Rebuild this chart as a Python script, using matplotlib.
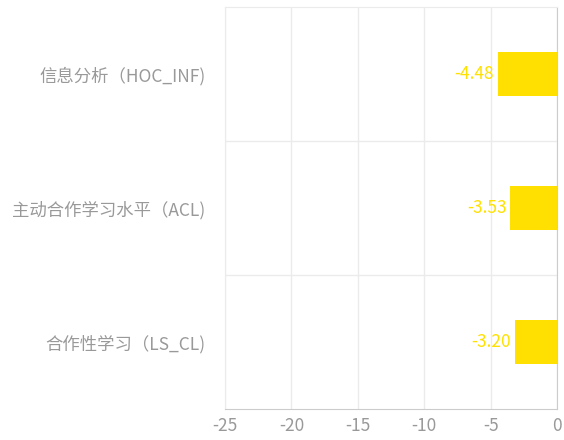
import matplotlib.pyplot as plt
from matplotlib.ticker import FixedLocator

plt.rcParams['font.family'] = ['Noto Sans CJK SC', 'DejaVu Sans']

# 數據
categories = ['信息分析（HOC_INF)', '主动合作学习水平（ACL)', '合作性学习（LS_CL)']
values = [-4.48, -3.53, -3.20]
x_ticks = [-25, -20, -15, -10, -5, 0]

bar_color = '#FFE000'
grid_color = '#EBEBEB'
text_color = '#999999'

fig = plt.figure(figsize=(5.64, 4.40), dpi=100)
ax = fig.add_axes([0.399, 0.0705, 0.5886, 0.9135])

y_pos = list(range(len(categories)))
bars = ax.barh(y_pos, values, height=0.33, color=bar_color, zorder=3)

# 數值標籤
for y, v in zip(y_pos, values):
    ax.text(v - 0.25, y, f'{v:.2f}', ha='right', va='center',
            color=bar_color, fontsize=12.5, zorder=4)

ax.set_xlim(-25, 0)
ax.set_ylim(len(categories) - 0.5, -0.5)
ax.set_xticks(x_ticks)
ax.set_xticklabels([str(t) for t in x_ticks])
ax.set_yticks(y_pos)
ax.set_yticklabels(categories)

# 類別分隔線
ax.yaxis.set_minor_locator(FixedLocator([0.5, 1.5]))
ax.grid(axis='x', which='major', color=grid_color, linewidth=1, zorder=0)
ax.grid(axis='y', which='minor', color=grid_color, linewidth=1, zorder=0)

for side in ['top', 'left']:
    ax.spines[side].set_color(grid_color)
ax.spines['right'].set_color('#CCCCCC')
ax.spines['bottom'].set_color('#CCCCCC')

ax.tick_params(axis='x', which='both', length=0, colors=text_color, labelsize=12.5, pad=6)
ax.tick_params(axis='y', which='both', length=0, colors=text_color, labelsize=12.5, pad=14)

fig.savefig('out.png', dpi=100)
